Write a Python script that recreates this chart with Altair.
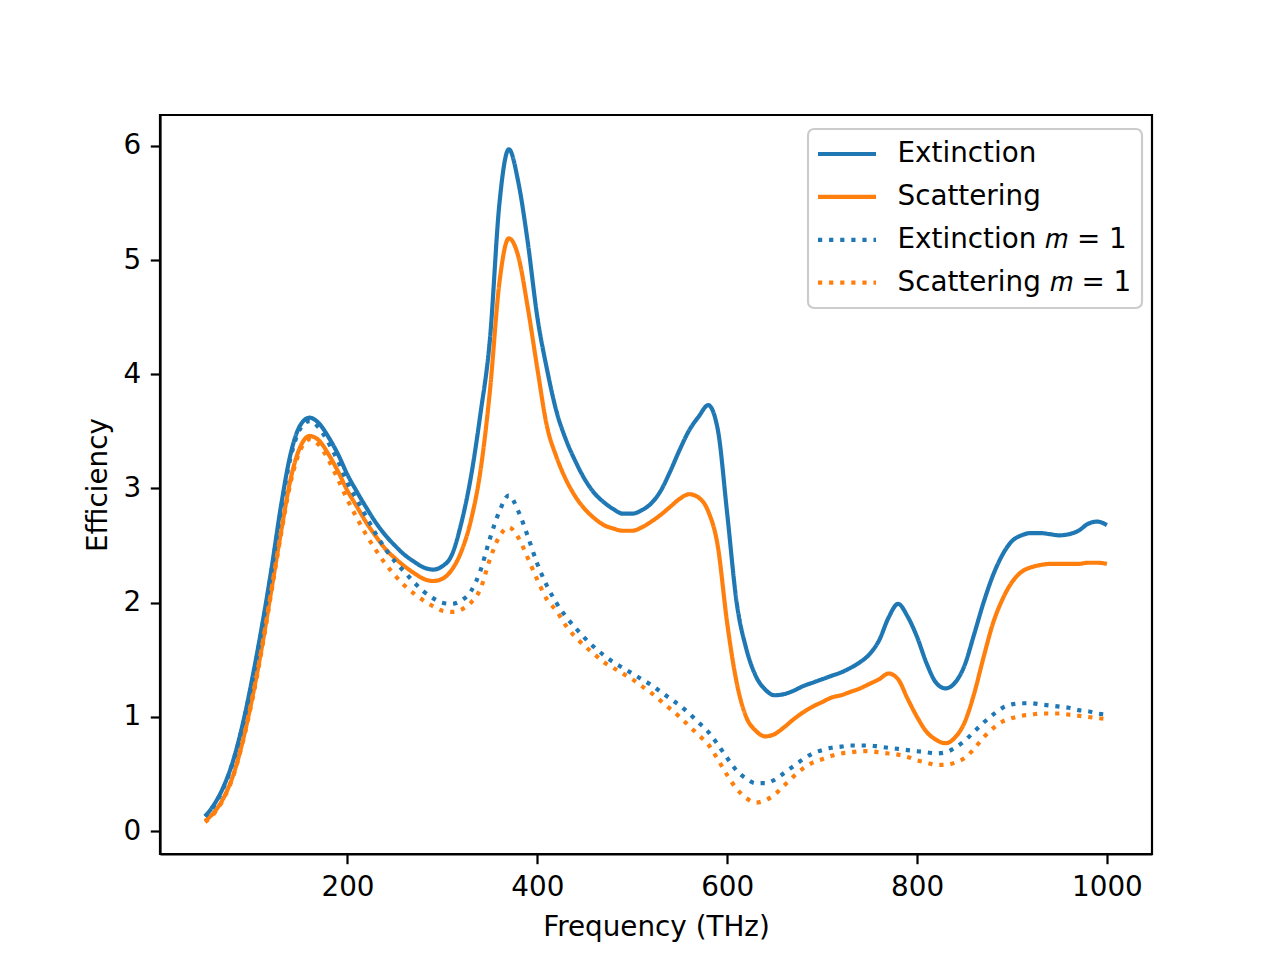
import altair as alt
import pandas as pd

freq = list(range(50, 1001, 10))

extinction = [0.13, 0.24, 0.40, 0.63, 0.95, 1.35, 1.80, 2.30, 2.85, 3.30,
              3.55, 3.62, 3.57, 3.45, 3.30, 3.12, 2.97, 2.83, 2.70, 2.59,
              2.50, 2.42, 2.36, 2.31, 2.29, 2.32, 2.42, 2.70, 3.10, 3.65,
              4.30, 5.49, 5.97, 5.68, 5.15, 4.50, 4.05, 3.68, 3.43, 3.24,
              3.08, 2.96, 2.88, 2.82, 2.78, 2.78, 2.81, 2.87, 2.98, 3.15,
              3.34, 3.51, 3.63, 3.73, 3.52, 2.78, 2.00, 1.60, 1.36, 1.24,
              1.19, 1.20, 1.23, 1.27, 1.30, 1.33, 1.36, 1.39, 1.43, 1.48,
              1.55, 1.67, 1.87, 1.99, 1.88, 1.70, 1.47, 1.30, 1.25, 1.30,
              1.45, 1.72, 2.00, 2.24, 2.42, 2.54, 2.59, 2.61, 2.61, 2.60,
              2.59, 2.60, 2.63, 2.69, 2.71, 2.68]

scattering = [0.09, 0.17, 0.30, 0.50, 0.80, 1.18, 1.62, 2.12, 2.62, 3.08,
              3.36, 3.46, 3.42, 3.30, 3.15, 2.98, 2.84, 2.70, 2.58, 2.47,
              2.39, 2.32, 2.26, 2.21, 2.19, 2.21, 2.29, 2.45, 2.72, 3.15,
              3.85, 4.80, 5.19, 5.03, 4.58, 4.05, 3.55, 3.28, 3.08, 2.93,
              2.82, 2.74, 2.68, 2.65, 2.63, 2.63, 2.66, 2.71, 2.77, 2.84,
              2.91, 2.95, 2.92, 2.80, 2.50, 1.82, 1.30, 1.00, 0.88, 0.83,
              0.85, 0.91, 0.98, 1.04, 1.09, 1.13, 1.17, 1.19, 1.22, 1.25,
              1.29, 1.33, 1.38, 1.33, 1.16, 1.00, 0.87, 0.80, 0.77, 0.82,
              0.95, 1.20, 1.52, 1.82, 2.03, 2.18, 2.27, 2.31, 2.33, 2.34,
              2.34, 2.34, 2.34, 2.35, 2.35, 2.34]

extinction_m1 = [0.13, 0.23, 0.39, 0.62, 0.94, 1.33, 1.78, 2.28, 2.82, 3.27,
                 3.52, 3.59, 3.53, 3.40, 3.24, 3.05, 2.90, 2.75, 2.60, 2.47,
                 2.36, 2.27, 2.18, 2.10, 2.04, 2.00, 1.99, 2.02, 2.10, 2.28,
                 2.56, 2.80, 2.94, 2.80, 2.58, 2.34, 2.15, 2.00, 1.88, 1.78,
                 1.69, 1.61, 1.54, 1.48, 1.43, 1.38, 1.33, 1.28, 1.22, 1.16,
                 1.10, 1.03, 0.95, 0.87, 0.76, 0.64, 0.53, 0.46, 0.42, 0.42,
                 0.45, 0.51, 0.57, 0.63, 0.68, 0.71, 0.73, 0.74, 0.75, 0.75,
                 0.75, 0.74, 0.73, 0.72, 0.71, 0.70, 0.69, 0.68, 0.69, 0.73,
                 0.79, 0.87, 0.95, 1.02, 1.08, 1.11, 1.12, 1.12, 1.11, 1.10,
                 1.09, 1.08, 1.06, 1.05, 1.03, 1.02]

scattering_m1 = [0.08, 0.16, 0.29, 0.49, 0.79, 1.16, 1.60, 2.10, 2.60, 3.05,
                 3.33, 3.43, 3.38, 3.25, 3.08, 2.90, 2.74, 2.59, 2.46, 2.34,
                 2.24, 2.15, 2.08, 2.02, 1.97, 1.93, 1.92, 1.94, 2.00, 2.12,
                 2.38, 2.58, 2.66, 2.57, 2.39, 2.20, 2.03, 1.93, 1.80, 1.70,
                 1.62, 1.55, 1.48, 1.43, 1.38, 1.33, 1.27, 1.21, 1.14, 1.07,
                 1.00, 0.92, 0.84, 0.76, 0.63, 0.49, 0.37, 0.29, 0.25, 0.27,
                 0.32, 0.40, 0.48, 0.55, 0.60, 0.63, 0.66, 0.68, 0.69, 0.70,
                 0.70, 0.69, 0.68, 0.67, 0.65, 0.62, 0.60, 0.58, 0.58, 0.60,
                 0.64, 0.72, 0.82, 0.90, 0.96, 0.99, 1.01, 1.02, 1.03, 1.03,
                 1.03, 1.02, 1.01, 1.00, 0.99, 0.98]

series_names = ["Extinction", "Scattering", "Extinction 𝑚 = 1", "Scattering 𝑚 = 1"]
series_values = [extinction, scattering, extinction_m1, scattering_m1]

rows = []
for name, vals in zip(series_names, series_values):
    for f, v in zip(freq, vals):
        rows.append({"freq": f, "eff": v, "series": name})
df = pd.DataFrame(rows)

BLUE = "#1f77b4"
ORANGE = "#ff7f0e"
FONT = "DejaVu Sans"
FS = 27.8

chart = alt.Chart(df).mark_line(
    strokeWidth=4.17, strokeJoin="round", interpolate="monotone"
).encode(
    x=alt.X("freq:Q", title="Frequency (THz)",
            scale=alt.Scale(domain=[2.5, 1047.5], nice=False, zero=False),
            axis=alt.Axis(values=[200, 400, 600, 800, 1000], format="d",
                          titlePadding=12)),
    y=alt.Y("eff:Q", title="Efficiency",
            scale=alt.Scale(domain=[-0.2, 6.27], nice=False, zero=False),
            axis=alt.Axis(values=[0, 1, 2, 3, 4, 5, 6], format="d",
                          titlePadding=10)),
    color=alt.Color("series:N", scale=alt.Scale(domain=series_names,
                                                 range=[BLUE, ORANGE, BLUE, ORANGE]),
                    legend=alt.Legend(title=None)),
    strokeDash=alt.StrokeDash("series:N", scale=alt.Scale(
        domain=series_names,
        range=[[1, 0], [1, 0], [4.2, 6.9], [4.2, 6.9]]),
        legend=alt.Legend(title=None)),
    order=alt.Order("series:N"),
).properties(
    width=992, height=739,
    padding={"left": 152, "top": 107, "right": 120, "bottom": 98},
    autosize=alt.AutoSizeParams(type="none"),
).configure_view(
    stroke="black", strokeWidth=2.2
).configure_axis(
    labelFont=FONT, labelFontSize=FS, labelColor="black",
    titleFont=FONT, titleFontSize=FS, titleColor="black", titleFontWeight="normal",
    tickColor="black", tickSize=9.7, tickWidth=2.2,
    domainColor="black", domainWidth=2.2, labelPadding=9.7, grid=False,
).configure_legend(
    orient="none", legendX=648, legendY=14,
    labelFont=FONT, labelFontSize=FS, labelColor="black",
    symbolType="stroke", symbolSize=3364, symbolStrokeWidth=4.2,
    symbolOffset=-2.5, clipHeight=30,
    labelOffset=19, rowPadding=12.9, padding=10,
    fillColor="white", strokeColor="#cccccc", strokeWidth=2.2, cornerRadius=6,
    labelLimit=400,
)

chart.save("out.html", embed_options={"renderer": "svg", "actions": False})
